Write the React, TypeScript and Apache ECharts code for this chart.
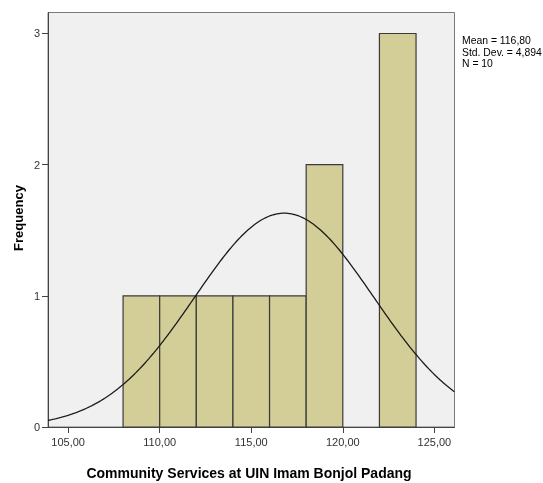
import React, { useEffect, useRef } from "react";
import * as echarts from "echarts";

const binStarts = [108, 110, 112, 114, 116, 118, 120, 122];
const binEnds = [110, 112, 114, 116, 118, 120, 122, 124];
const counts = [1, 1, 1, 1, 1, 2, 0, 3];
const xTicks = [105, 110, 115, 120, 125];
const yTicks = [0, 1, 2, 3];
const stats = { mean: 116.8, sd: 4.894, n: 10 };
const statLines = ["Mean = 116,80", "Std. Dev. = 4,894", "N = 10"];
const xMin = 103.9;
const xMax = 126.1;
const yMax = 3.16;

function normalCurve(): number[][] {
  const pts: number[][] = [];
  const bw = 2;
  for (let i = 0; i <= 222; i++) {
    const x = xMin + i * 0.1;
    const z = (x - stats.mean) / stats.sd;
    const y = (stats.n * bw) / (stats.sd * Math.sqrt(2 * Math.PI)) * Math.exp(-0.5 * z * z);
    pts.push([x, y]);
  }
  return pts;
}

const FONT = "Liberation Sans, Arial, sans-serif";

export default function App() {
  const ref = useRef<HTMLDivElement>(null);
  useEffect(() => {
    if (!ref.current) return;
    const chart = echarts.init(ref.current, undefined, { renderer: "svg" });
    const barData = binStarts.map((s, i) => [s, binEnds[i], counts[i]]).filter((d) => d[2] > 0);
    chart.setOption({
      animation: false,
      grid: {
        left: 48,
        top: 12.5,
        right: 88.5,
        bottom: 56,
        show: true,
        backgroundColor: "#F0F0F0",
        borderColor: "#7a7a7a",
        borderWidth: 1,
      },
      xAxis: {
        type: "value",
        min: xMin,
        max: xMax,
        axisLine: { show: true, onZero: false, lineStyle: { color: "#444", width: 1 } },
        axisTick: { show: true, length: 6, lineStyle: { color: "#444" }, customValues: xTicks },
        axisLabel: {
          customValues: xTicks,
          color: "#333",
          fontFamily: FONT,
          fontSize: 11,
          margin: 9,
          formatter: (v: number) => v.toFixed(2).replace(".", ","),
        },
        splitLine: { show: false },
      },
      yAxis: {
        type: "value",
        min: 0,
        max: yMax,
        axisLine: { show: true, lineStyle: { color: "#444", width: 1 } },
        axisTick: { show: true, length: 6, lineStyle: { color: "#444" }, customValues: yTicks },
        axisLabel: {
          customValues: yTicks,
          color: "#333",
          fontFamily: FONT,
          fontSize: 11,
          margin: 8,
        },
        splitLine: { show: false },
      },
      graphic: [
        {
          type: "text",
          x: 18,
          y: 218,
          rotation: Math.PI / 2,
          style: {
            text: "Frequency",
            fontFamily: FONT,
            fontWeight: "bold",
            fontSize: 13,
            fill: "#000",
            align: "center",
            verticalAlign: "middle",
          },
        },
        {
          type: "text",
          x: 249,
          y: 473,
          style: {
            text: "Community Services at UIN Imam Bonjol Padang",
            fontFamily: FONT,
            fontWeight: "bold",
            fontSize: 14,
            fill: "#000",
            align: "center",
            verticalAlign: "middle",
          },
        },
        ...statLines.map((t, i) => ({
          type: "text",
          x: 462,
          y: 40.5 + i * 11.7,
          style: {
            text: t,
            fontFamily: FONT,
            fontSize: 10.4,
            fill: "#000",
            align: "left",
            verticalAlign: "middle",
          },
        })),
      ],
      series: [
        {
          type: "custom",
          data: barData,
          z: 2,
          renderItem: (params: any, api: any) => {
            const p0 = api.coord([api.value(0), 0]);
            const p1 = api.coord([api.value(1), api.value(2)]);
            return {
              type: "rect",
              shape: { x: p0[0], y: p1[1], width: p1[0] - p0[0], height: p0[1] - p1[1] },
              style: { fill: "#D3CE97", stroke: "#3a3a3a", lineWidth: 1.2 },
            };
          },
        },
        {
          type: "line",
          data: normalCurve(),
          showSymbol: false,
          smooth: false,
          z: 3,
          lineStyle: { color: "#1a1a1a", width: 1.3 },
        },
      ],
    });
    return () => chart.dispose();
  }, []);
  return (
    <div
      ref={ref}
      style={{ position: "fixed", left: 0, top: 0, width: 543, height: 483, overflow: "hidden" }}
    />
  );
}
